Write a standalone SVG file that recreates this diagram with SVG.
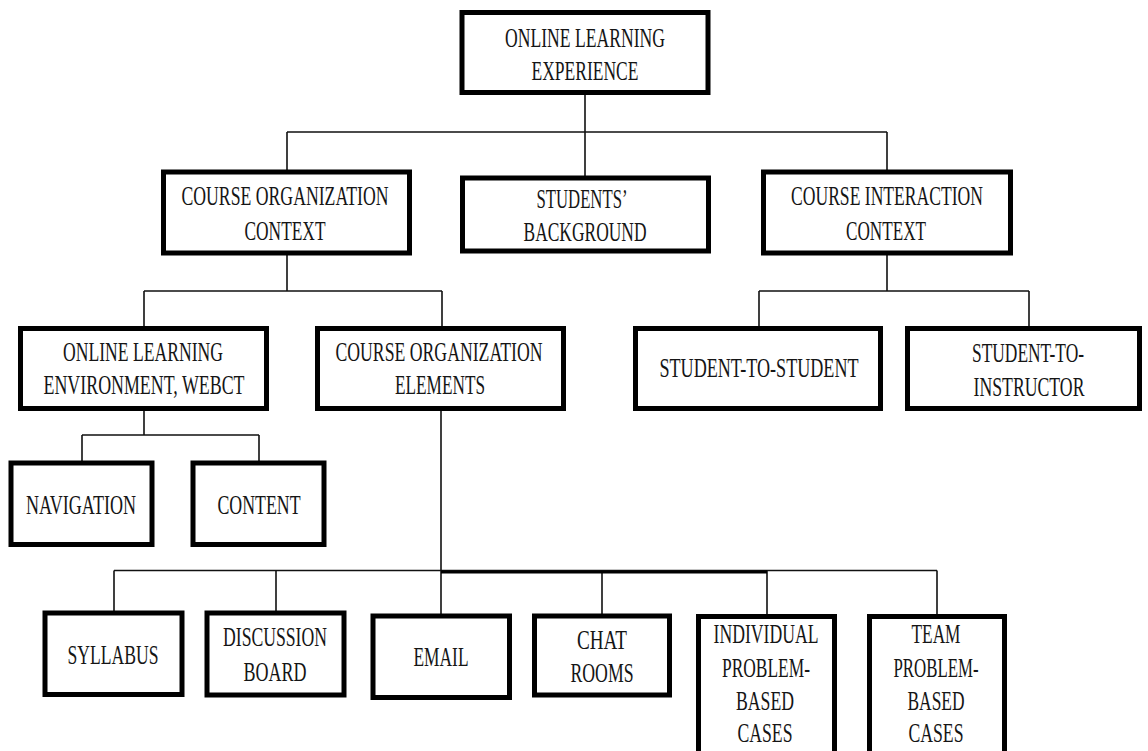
<svg xmlns="http://www.w3.org/2000/svg" width="1148" height="751" viewBox="0 0 1148 751">
<style>
.box{fill:#fff;stroke:#000;stroke-width:5}
.t{font-family:"Liberation Serif","Times New Roman",serif;font-size:28px;fill:#151515;text-anchor:middle}
.c{stroke:#111;stroke-width:1.6;fill:none}
.ct{stroke:#000;stroke-width:3.2;fill:none}
</style>
<rect width="1148" height="751" fill="#fff"/>
<g id="connectors">
<path class="c" d="M585 94V132M287 132H887M287 132V170M585 132V176M887 132V170"/>
<path class="c" d="M287 255V291M144 291H442M144 291V326M442 291V326"/>
<path class="c" d="M887 255V291M759 291H1029M759 291V326M1029 291V326"/>
<path class="c" d="M144 409V435M82 435H259M82 435V461M259 435V461"/>
<path class="c" d="M441 409V614M114 570.5H937M114 570.5V611M276 570.5V611M602 570.5V614M767 570.5V614M937 570.5V614"/>
<path class="ct" d="M441 572H767"/>
</g>
<g id="n-experience">
<rect class="box" x="462" y="12.5" width="246" height="80"/>
<text class="t" x="585" y="47" textLength="160" lengthAdjust="spacingAndGlyphs">ONLINE LEARNING</text>
<text class="t" x="585" y="80" textLength="107" lengthAdjust="spacingAndGlyphs">EXPERIENCE</text>
</g>
<g id="n-org-context">
<rect class="box" x="163.5" y="172" width="246" height="81"/>
<text class="t" x="285" y="205" textLength="207" lengthAdjust="spacingAndGlyphs">COURSE ORGANIZATION</text>
<text class="t" x="285" y="240" textLength="81" lengthAdjust="spacingAndGlyphs">CONTEXT</text>
</g>
<g id="n-background">
<rect class="box" x="462.5" y="178" width="246" height="73"/>
<text class="t" x="582" y="208" textLength="91" lengthAdjust="spacingAndGlyphs">STUDENTS’</text>
<text class="t" x="585" y="241" textLength="123" lengthAdjust="spacingAndGlyphs">BACKGROUND</text>
</g>
<g id="n-interaction-context">
<rect class="box" x="763.5" y="172" width="247" height="81"/>
<text class="t" x="887" y="205" textLength="192" lengthAdjust="spacingAndGlyphs">COURSE INTERACTION</text>
<text class="t" x="886" y="240" textLength="80" lengthAdjust="spacingAndGlyphs">CONTEXT</text>
</g>
<g id="n-environment">
<rect class="box" x="20.5" y="328.5" width="246" height="80"/>
<text class="t" x="143" y="361" textLength="160" lengthAdjust="spacingAndGlyphs">ONLINE LEARNING</text>
<text class="t" x="144" y="394" textLength="201" lengthAdjust="spacingAndGlyphs">ENVIRONMENT, WEBCT</text>
</g>
<g id="n-elements">
<rect class="box" x="317.5" y="328.5" width="246" height="80"/>
<text class="t" x="439" y="361" textLength="207" lengthAdjust="spacingAndGlyphs">COURSE ORGANIZATION</text>
<text class="t" x="440" y="394" textLength="90" lengthAdjust="spacingAndGlyphs">ELEMENTS</text>
</g>
<g id="n-s2s">
<rect class="box" x="635.5" y="328.5" width="245" height="80"/>
<text class="t" x="759" y="377" textLength="199" lengthAdjust="spacingAndGlyphs">STUDENT-TO-STUDENT</text>
</g>
<g id="n-s2i">
<rect class="box" x="907.5" y="328.5" width="232" height="80"/>
<text class="t" x="1028" y="362" textLength="112" lengthAdjust="spacingAndGlyphs">STUDENT-TO-</text>
<text class="t" x="1029" y="396" textLength="111" lengthAdjust="spacingAndGlyphs">INSTRUCTOR</text>
</g>
<g id="n-navigation">
<rect class="box" x="11" y="463" width="141" height="81.5"/>
<text class="t" x="81" y="514" textLength="110" lengthAdjust="spacingAndGlyphs">NAVIGATION</text>
</g>
<g id="n-content">
<rect class="box" x="193" y="463" width="131" height="81.5"/>
<text class="t" x="259" y="514" textLength="83" lengthAdjust="spacingAndGlyphs">CONTENT</text>
</g>
<g id="n-syllabus">
<rect class="box" x="45" y="613" width="137" height="81.5"/>
<text class="t" x="113" y="664" textLength="91" lengthAdjust="spacingAndGlyphs">SYLLABUS</text>
</g>
<g id="n-discussion">
<rect class="box" x="207" y="613" width="137" height="82"/>
<text class="t" x="275" y="646" textLength="104" lengthAdjust="spacingAndGlyphs">DISCUSSION</text>
<text class="t" x="275" y="681" textLength="63" lengthAdjust="spacingAndGlyphs">BOARD</text>
</g>
<g id="n-email">
<rect class="box" x="373" y="616" width="136.5" height="81.5"/>
<text class="t" x="441" y="666" textLength="55" lengthAdjust="spacingAndGlyphs">EMAIL</text>
</g>
<g id="n-chat">
<rect class="box" x="534.5" y="616" width="135" height="79"/>
<text class="t" x="602" y="649" textLength="50" lengthAdjust="spacingAndGlyphs">CHAT</text>
<text class="t" x="602" y="682" textLength="63" lengthAdjust="spacingAndGlyphs">ROOMS</text>
</g>
<g id="n-individual">
<rect class="box" x="698.5" y="616.5" width="136" height="150"/>
<text class="t" x="766" y="643" textLength="105" lengthAdjust="spacingAndGlyphs">INDIVIDUAL</text>
<text class="t" x="766" y="677" textLength="88" lengthAdjust="spacingAndGlyphs">PROBLEM-</text>
<text class="t" x="765" y="710" textLength="58" lengthAdjust="spacingAndGlyphs">BASED</text>
<text class="t" x="765" y="742" textLength="55" lengthAdjust="spacingAndGlyphs">CASES</text>
</g>
<g id="n-team">
<rect class="box" x="869.5" y="616.5" width="135" height="150"/>
<text class="t" x="936" y="643" textLength="49" lengthAdjust="spacingAndGlyphs">TEAM</text>
<text class="t" x="936" y="677" textLength="85" lengthAdjust="spacingAndGlyphs">PROBLEM-</text>
<text class="t" x="936" y="710" textLength="57" lengthAdjust="spacingAndGlyphs">BASED</text>
<text class="t" x="936" y="742" textLength="55" lengthAdjust="spacingAndGlyphs">CASES</text>
</g>
</svg>
